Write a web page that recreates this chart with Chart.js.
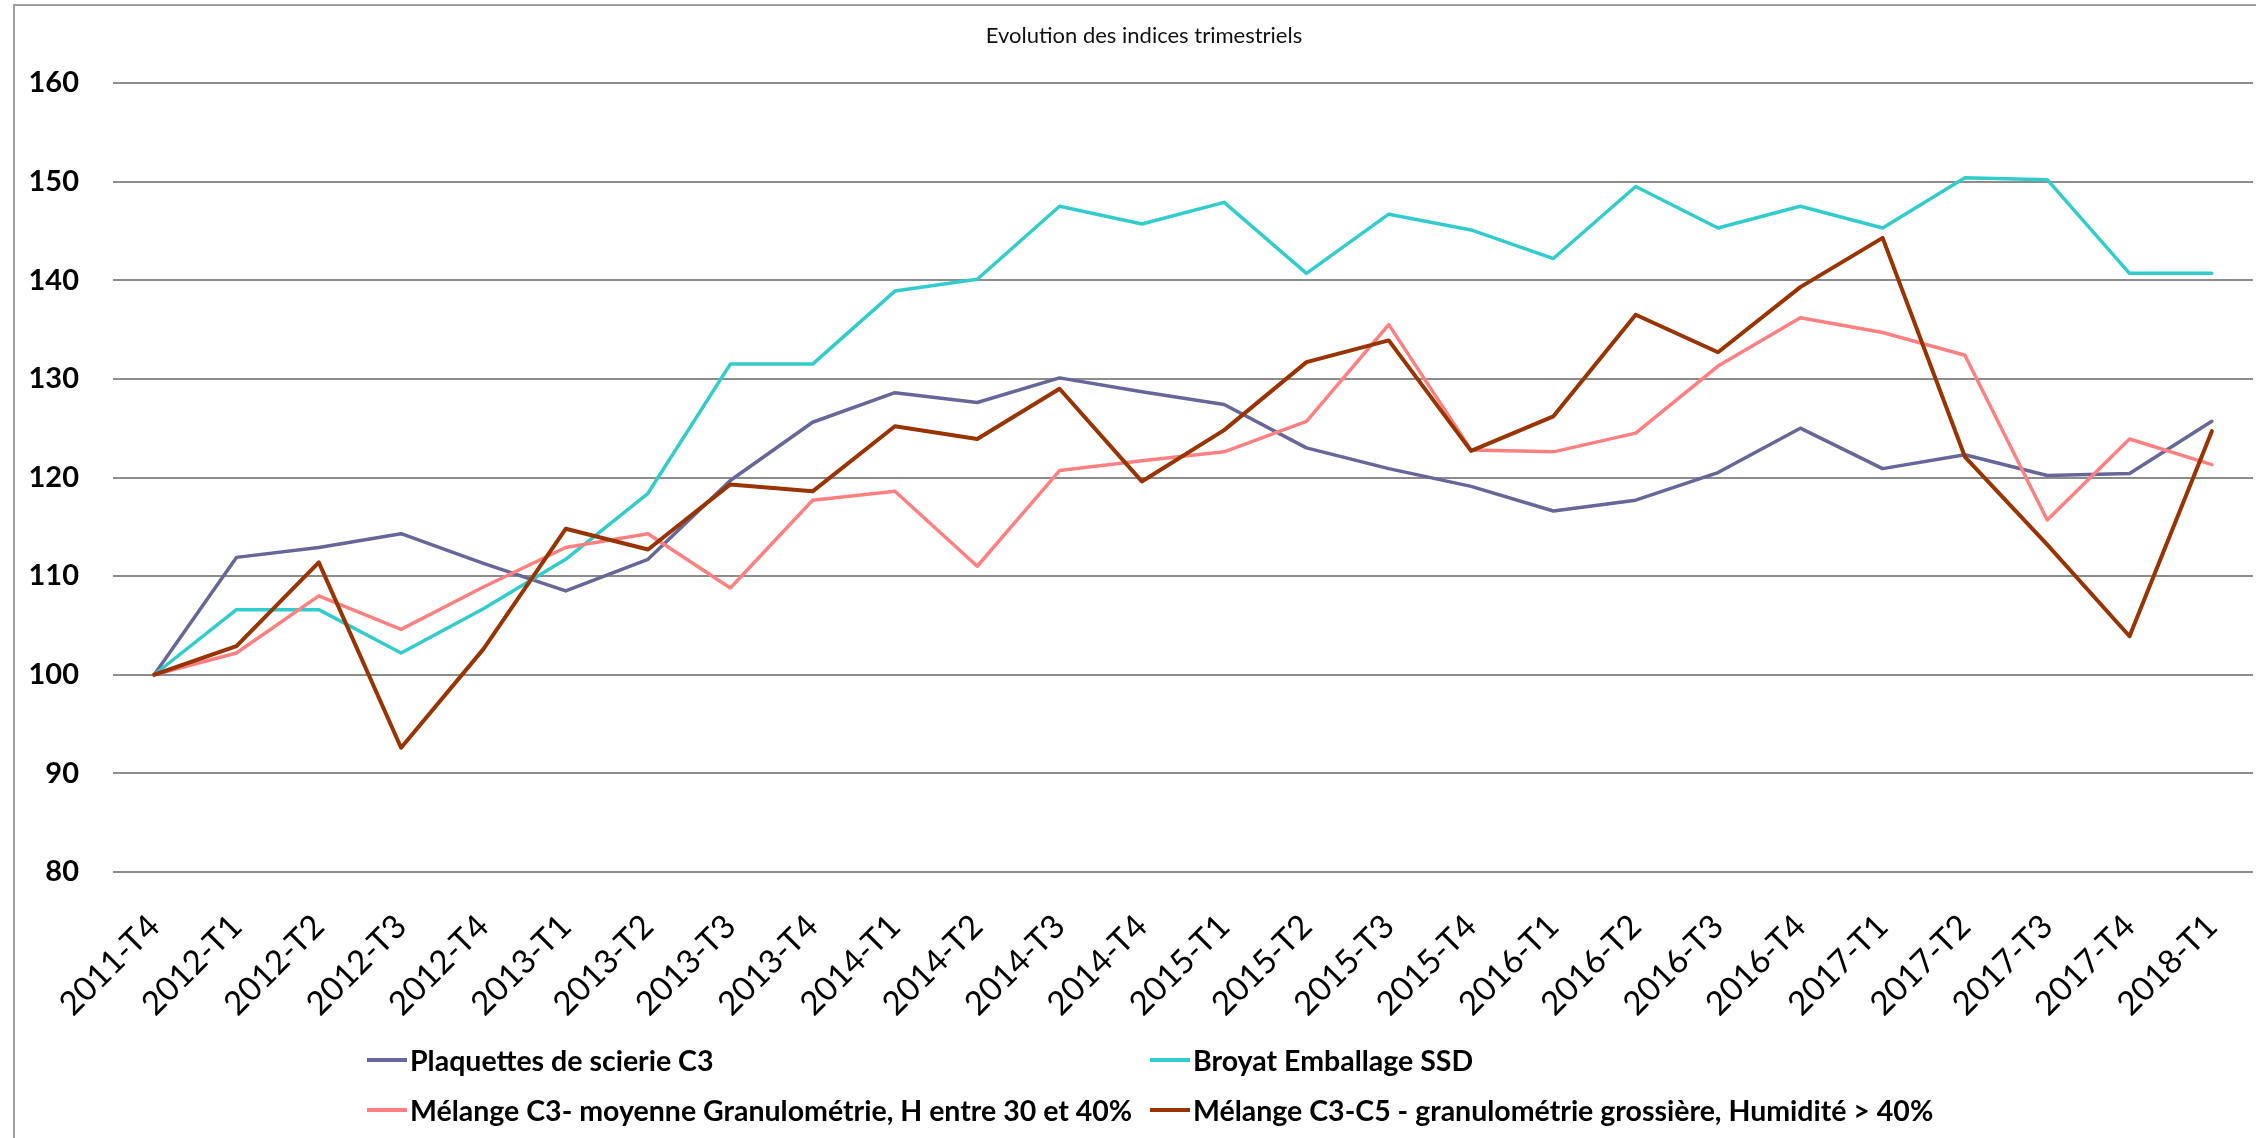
<!DOCTYPE html>
<html lang="fr">
<head>
<meta charset="utf-8">
<title>Evolution des indices trimestriels</title>
<script src="https://cdn.jsdelivr.net/npm/chart.js@4.4.1/dist/chart.umd.min.js"></script>
<style>
  html, body { margin: 0; padding: 0; background: #fff; overflow: hidden; }
  #wrap { position: relative; width: 2256px; height: 1138px; overflow: hidden; }
  #frame { position: absolute; left: 13px; top: 4px; width: 2400px; height: 1300px;
           border-left: 2px solid #a0a0a0; border-top: 2px solid #a0a0a0; }
  #chart { position: absolute; left: 0; top: 0; }
  #title { position: absolute; left: 0; width: 2288px; top: 21px; text-align: center;
           font: 22px Lato, "Open Sans", sans-serif; color: #111; }
  .leg { position: absolute; display: flex; align-items: center; white-space: nowrap;
         font: bold 28.5px Lato, "Open Sans", sans-serif; color: #000; }
  .leg span.mk { display: inline-block; width: 40px; height: 4px; margin-right: 3px; }
</style>
</head>
<body>
<div id="wrap">
  <div id="frame"></div>
  <canvas id="chart" width="2256" height="1138"></canvas>
  <div id="title">Evolution des indices trimestriels</div>
  <div id="legend"></div>
</div>
<script>
const trimestres = ['2011-T4',
  '2012-T1', '2012-T2', '2012-T3', '2012-T4',
  '2013-T1', '2013-T2', '2013-T3', '2013-T4',
  '2014-T1', '2014-T2', '2014-T3', '2014-T4',
  '2015-T1', '2015-T2', '2015-T3', '2015-T4',
  '2016-T1', '2016-T2', '2016-T3', '2016-T4',
  '2017-T1', '2017-T2', '2017-T3', '2017-T4',
  '2018-T1'];

const plaquettes = [100, 111.9, 112.9, 114.3, 111.3, 108.5, 111.7, 119.7, 125.6, 128.6, 127.6, 130.1, 128.7,
  127.4, 123.0, 120.9, 119.1, 116.6, 117.7, 120.5, 125.0, 120.9, 122.3, 120.2, 120.4, 125.7];
const broyat = [100, 106.6, 106.6, 102.2, 106.7, 111.7, 118.4, 131.5, 131.5, 138.9, 140.1, 147.5, 145.7,
  147.9, 140.7, 146.7, 145.1, 142.2, 149.5, 145.3, 147.5, 145.3, 150.4, 150.2, 140.7, 140.7];
const melangeC3 = [100, 102.2, 108.0, 104.6, 108.9, 112.9, 114.3, 108.8, 117.7, 118.6, 111.0, 120.7, 121.7,
  122.6, 125.7, 135.5, 122.8, 122.6, 124.5, 131.3, 136.2, 134.7, 132.4, 115.7, 123.9, 121.3];
const melangeC3C5 = [100, 102.9, 111.4, 92.6, 102.6, 114.8, 112.7, 119.3, 118.6, 125.2, 123.9, 129.0, 119.6,
  124.8, 131.7, 133.9, 122.7, 126.2, 136.5, 132.7, 139.3, 144.3, 122.1, 113.2, 103.9, 124.7];

const nomsSeries = ['Plaquettes de scierie C3', 'Broyat Emballage SSD',
  'Mélange C3- moyenne Granulométrie, H entre 30 et 40%',
  'Mélange C3-C5 - granulométrie grossière, Humidité > 40%'];
const couleurs = ['#666699', '#33CCCC', '#FF8080', '#993300'];
const valeurs = [plaquettes, broyat, melangeC3, melangeC3C5];

// position des entrées de la légende (2 colonnes)
const legendePos = [[367, 1060], [1150, 1060], [367, 1110], [1150, 1110]];

const ctx = document.getElementById('chart').getContext('2d');
const chart = new Chart(ctx, {
  type: 'line',
  data: {
    labels: trimestres,
    datasets: valeurs.map((v, i) => ({
      label: nomsSeries[i],
      data: v,
      borderColor: couleurs[i],
      backgroundColor: couleurs[i],
      borderWidth: i === 3 ? 4 : 3.5,
      pointRadius: 0,
      tension: 0,
      borderJoinStyle: 'round',
      borderCapStyle: 'round',
      order: 3 - i
    }))
  },
  options: {
    responsive: false,
    animation: false,
    layout: { padding: { left: 0, right: 3, top: 83, bottom: 116 } },
    plugins: {
      legend: { display: false },
      title: { display: false },
      tooltip: { enabled: false }
    },
    scales: {
      x: {
        offset: true,
        grid: { display: false, drawTicks: false },
        border: { display: false },
        ticks: {
          minRotation: 45,
          maxRotation: 45,
          autoSkip: false,
          padding: 35,
          color: '#000',
          font: { family: 'Lato, "Open Sans", sans-serif', size: 33 }
        },
        afterFit: (scale) => {
          // pas de marge auto pour les étiquettes inclinées
          scale.height = 150;
          scale.paddingLeft = 0;
          scale.paddingRight = 0;
        }
      },
      y: {
        min: 80,
        max: 160,
        grid: { color: '#8C8C8C', lineWidth: 2, drawTicks: false },
        border: { display: false },
        ticks: {
          stepSize: 10,
          padding: 34,
          color: '#000',
          font: { family: 'Lato, "Open Sans", sans-serif', size: 29, weight: 'bold' }
        },
        afterFit: (scale) => { scale.width = 113; }
      }
    }
  }
});

// légende HTML construite depuis les datasets
const legende = document.getElementById('legend');
chart.data.datasets.forEach((ds, i) => {
  const item = document.createElement('div');
  item.className = 'leg';
  item.style.left = legendePos[i][0] + 'px';
  item.style.top = (legendePos[i][1] - 19) + 'px';
  item.style.height = '38px';
  const mk = document.createElement('span');
  mk.className = 'mk';
  mk.style.background = ds.borderColor;
  const txt = document.createElement('span');
  txt.textContent = ds.label;
  item.appendChild(mk);
  item.appendChild(txt);
  legende.appendChild(item);
});
</script>
</body>
</html>
